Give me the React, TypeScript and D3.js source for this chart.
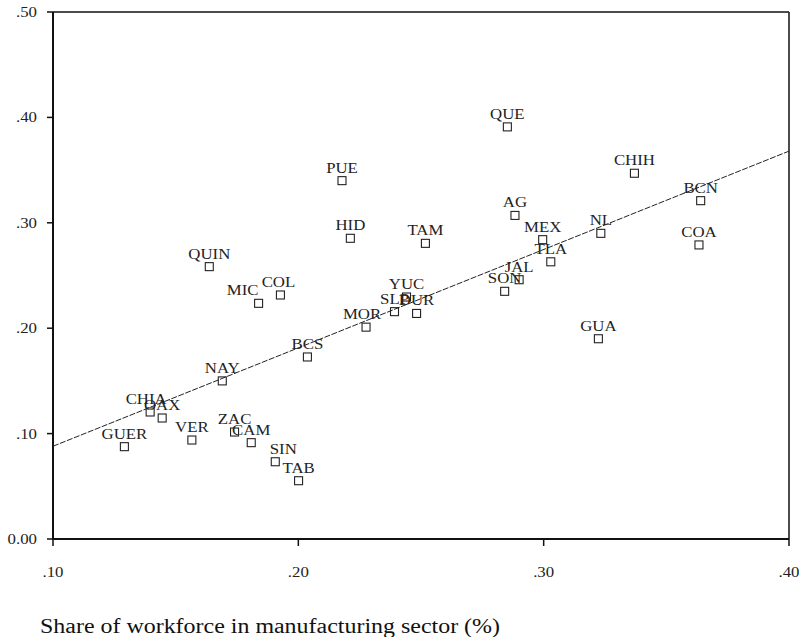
import React from "react";
import * as d3 from "d3";

const states = ["QUIN","CHIA","OAX","GUER","VER","NAY","MIC","COL","ZAC","CAM","SIN","TAB","BCS","PUE","HID","MOR","SLP","YUC","DUR","TAM","SON","QUE","AG","JAL","MEX","TLA","GUA","NL","CHIH","COA","BCN"];
const manufShare = [0.1637,0.1396,0.1445,0.1291,0.1566,0.169,0.1838,0.1927,0.174,0.1808,0.1906,0.2001,0.2037,0.2178,0.2212,0.2276,0.2392,0.2441,0.2482,0.2518,0.2841,0.2852,0.2883,0.290,0.2996,0.3029,0.3223,0.3233,0.337,0.3633,0.364];
const yValues = [0.2584,0.1205,0.1148,0.0876,0.0939,0.150,0.2236,0.2315,0.1015,0.0914,0.0733,0.0553,0.1727,0.340,0.2853,0.201,0.2157,0.2296,0.214,0.2805,0.235,0.391,0.307,0.246,0.284,0.263,0.190,0.290,0.347,0.279,0.321];
const fitX = [0.10, 0.40];
const fitY = [0.088, 0.368];
const xTicks = [0.1, 0.2, 0.3, 0.4];
const xTickLabels = [".10", ".20", ".30", ".40"];
const yTicks = [0, 0.1, 0.2, 0.3, 0.4, 0.5];
const yTickLabels = ["0.00", ".10", ".20", ".30", ".40", ".50"];
const xTitle = "Share of workforce in manufacturing sector (%)";
const labelNudge: Record<string, number> = { MIC: -16, SIN: 8, MOR: -4, CHIA: -4, COL: -2 };

const FONT = "'Liberation Serif', 'Times New Roman', serif";

export default function App() {
  const W = 799, H = 637;
  const x = d3.scaleLinear().domain([0.1, 0.4]).range([53, 789]);
  const y = d3.scaleLinear().domain([0, 0.5]).range([539, 12]);
  const line = d3.line<number>().x((d, i) => x(fitX[i])).y((d) => y(d));
  const s = 8;
  const txt = { fontFamily: FONT };
  return (
    <svg width={W} height={H} style={{ position: "absolute", left: 0, top: 0, background: "#fff" }}>
      <rect x={0} y={0} width={W} height={H} fill="#fff" />
      <line x1={x(0.1)} x2={x(0.4)} y1={y(0.5)} y2={y(0.5)} stroke="#111" strokeWidth={1.5} />
      <line x1={x(0.4)} x2={x(0.4)} y1={y(0.5)} y2={y(0)} stroke="#111" strokeWidth={1.5} />
      <line x1={x(0.1)} x2={x(0.1)} y1={y(0.5)} y2={y(0)} stroke="#111" strokeWidth={2} />
      <line x1={x(0.1)} x2={x(0.4)} y1={y(0)} y2={y(0)} stroke="#111" strokeWidth={2} />
      {yTicks.map((t, i) => (
        <g key={"y" + i}>
          <line x1={x(0.1) - 6} x2={x(0.1)} y1={y(t)} y2={y(t)} stroke="#111" strokeWidth={1.5} />
          <text transform={`translate(37,${y(t) + 5}) scale(1.2,1)`} textAnchor="end" fontSize={14} fill="#222" style={txt}>{yTickLabels[i]}</text>
        </g>
      ))}
      {xTicks.map((t, i) => (
        <g key={"x" + i}>
          <line x1={x(t)} x2={x(t)} y1={y(0)} y2={y(0) + 7} stroke="#111" strokeWidth={1.5} />
          <text transform={`translate(${x(t)},577) scale(1.2,1)`} textAnchor="middle" fontSize={14} fill="#222" style={txt}>{xTickLabels[i]}</text>
        </g>
      ))}
      <path d={line(fitY) || ""} fill="none" stroke="#222" strokeWidth={1} strokeDasharray="6 1.5" />
      {states.map((st, i) => {
        const cx = x(manufShare[i]);
        const cy = y(yValues[i]);
        return (
          <g key={st}>
            <rect x={cx - s / 2} y={cy - s / 2} width={s} height={s} fill="none" stroke="#222" strokeWidth={1.1} />
            <text transform={`translate(${cx + (labelNudge[st] || 0)},${cy - 8}) scale(1.2,1)`} textAnchor="middle" fontSize={14} fill="#222" style={txt}>{st}</text>
          </g>
        );
      })}
      <text x={40} y={633} fontSize={20} fill="#111" textLength={460} lengthAdjust="spacingAndGlyphs" style={txt}>{xTitle}</text>
    </svg>
  );
}
